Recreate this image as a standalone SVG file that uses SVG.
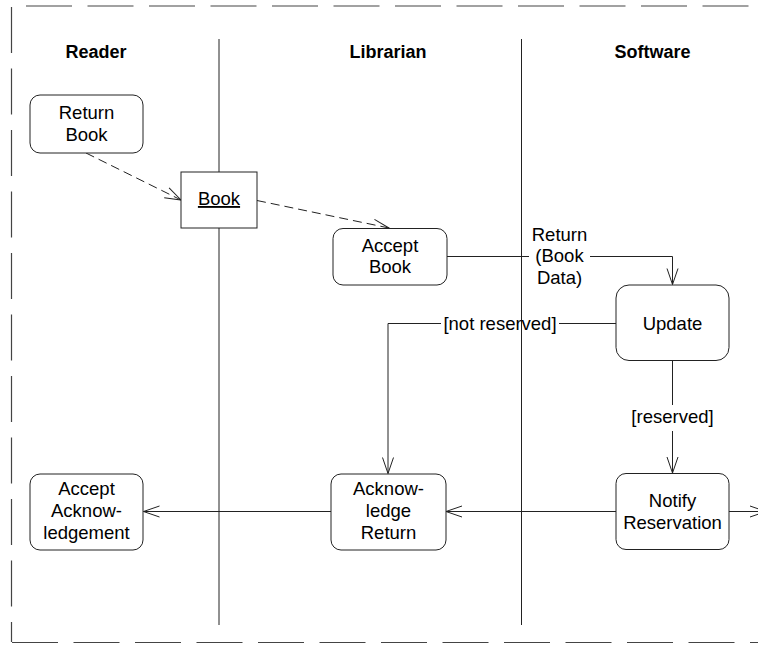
<svg xmlns="http://www.w3.org/2000/svg" width="758" height="645" viewBox="0 0 758 645">
  <style>
    .frame { fill: none; stroke: #444; stroke-width: 1.2; stroke-dasharray: 46 15.5; }
    .lane { fill: none; stroke: #222; stroke-width: 1; }
    .node { fill: #fff; stroke: #222; stroke-width: 1; }
    .flow { fill: none; stroke: #222; stroke-width: 1; }
    .dep { fill: none; stroke: #222; stroke-width: 1; stroke-dasharray: 9 5; }
    .t { font-family: "Liberation Sans", Arial, sans-serif; font-size: 18.5px; fill: #000; text-anchor: middle; }
    .h { font-weight: bold; font-size: 18px; }
  </style>
  <defs>
    <marker id="open" markerUnits="userSpaceOnUse" markerWidth="20" markerHeight="14" viewBox="-17 -7 18 14" refX="0" refY="0" orient="auto">
      <path d="M -16 -5.5 L 0 0 L -16 5.5" fill="none" stroke="#222" stroke-width="1"/>
    </marker>
  </defs>

  <!-- activity partition frame -->
  <g id="frame">
    <line class="frame" x1="26" y1="6" x2="760" y2="6"/>
    <line class="frame" x1="11.5" y1="7" x2="11.5" y2="642"/>
    <line class="frame" x1="12" y1="642.5" x2="760" y2="642.5"/>
  </g>

  <!-- swimlanes -->
  <g id="lanes">
    <line class="lane" x1="219" y1="39" x2="219" y2="625"/>
    <line class="lane" x1="521.5" y1="39" x2="521.5" y2="625"/>
    <text class="t h" x="96" y="58">Reader</text>
    <text class="t h" x="388" y="58">Librarian</text>
    <text class="t h" x="652.5" y="58">Software</text>
  </g>

  <!-- connectors -->
  <g id="connectors">
    <line class="dep" x1="86" y1="153" x2="181" y2="200" marker-end="url(#open)"/>
    <line class="dep" x1="257" y1="200.5" x2="389" y2="228" marker-end="url(#open)"/>

    <line class="flow" x1="447" y1="256.5" x2="529" y2="256.5"/>
    <path class="flow" d="M 590 256.5 H 672.5 V 284.5" marker-end="url(#open)"/>
    <text class="t" x="559.5" y="240.5">Return</text>
    <text class="t" x="559.5" y="262">(Book</text>
    <text class="t" x="559.5" y="283.5">Data)</text>

    <line class="flow" x1="616" y1="323.5" x2="559" y2="323.5"/>
    <path class="flow" d="M 441 323.5 H 388 V 473.5" marker-end="url(#open)"/>
    <text class="t" x="500" y="329.5">[not reserved]</text>

    <line class="flow" x1="672.5" y1="360.5" x2="672.5" y2="405"/>
    <line class="flow" x1="672.5" y1="431" x2="672.5" y2="473" marker-end="url(#open)"/>
    <text class="t" x="672.5" y="422.5">[reserved]</text>

    <line class="flow" x1="616" y1="511.5" x2="446" y2="511.5" marker-end="url(#open)"/>
    <line class="flow" x1="729" y1="511.5" x2="766" y2="511.5" marker-end="url(#open)"/>
    <line class="flow" x1="331" y1="511.5" x2="143.5" y2="511.5" marker-end="url(#open)"/>
  </g>

  <g id="return-book">
    <rect class="node" x="30" y="95" width="113" height="58" rx="10"/>
    <text class="t" x="86.5" y="119">Return</text>
    <text class="t" x="86.5" y="140.5">Book</text>
  </g>

  <g id="book">
    <rect class="node" x="181" y="172" width="76" height="56"/>
    <text class="t" x="219" y="205" text-decoration="underline">Book</text>
  </g>

  <g id="accept-book">
    <rect class="node" x="333" y="228.5" width="114" height="56.5" rx="10"/>
    <text class="t" x="390" y="251.5">Accept</text>
    <text class="t" x="390" y="273">Book</text>
  </g>

  <g id="update">
    <rect class="node" x="616" y="285" width="113" height="75.5" rx="13"/>
    <text class="t" x="672.5" y="329.5">Update</text>
  </g>

  <g id="acknowledge-return">
    <rect class="node" x="331" y="474" width="115" height="76" rx="10"/>
    <text class="t" x="388.5" y="495">Acknow-</text>
    <text class="t" x="388.5" y="517">ledge</text>
    <text class="t" x="388.5" y="539">Return</text>
  </g>

  <g id="notify-reservation">
    <rect class="node" x="616" y="473.5" width="113" height="76" rx="10"/>
    <text class="t" x="672.5" y="506.5">Notify</text>
    <text class="t" x="672.5" y="529">Reservation</text>
  </g>

  <g id="accept-acknowledgement">
    <rect class="node" x="30" y="474" width="113" height="76" rx="10"/>
    <text class="t" x="86.5" y="495">Accept</text>
    <text class="t" x="86.5" y="517">Acknow-</text>
    <text class="t" x="86.5" y="539">ledgement</text>
  </g>
</svg>
